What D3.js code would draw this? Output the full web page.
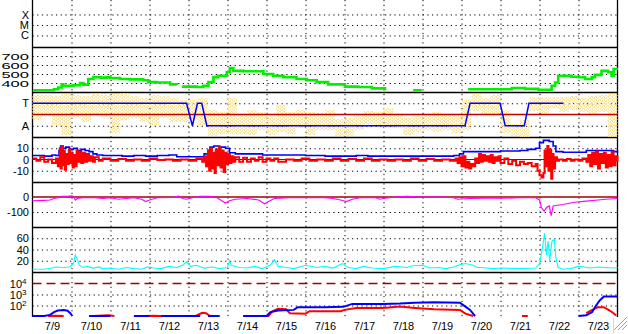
<!DOCTYPE html>
<html><head><meta charset="utf-8">
<script src="https://cdn.jsdelivr.net/npm/d3@7"></script>
<style>
html,body{margin:0;padding:0;background:#fff;overflow:hidden}
svg{display:block}
</style></head><body>
<svg id="c" width="628" height="334"></svg>
<script>
// ---------- data (time in days since 7/9 00:00) ----------
const dayLabels = ["7/9","7/10","7/11","7/12","7/13","7/14","7/15","7/16","7/17","7/18","7/19","7/20","7/21","7/22","7/23"];
const xrayTicks = [1e-6, 1e-5, 1e-4];
const xrayLabels = ["C", "M", "X"];
const speedTicks = [400, 500, 600, 700];
const sectorTicks = [1, -1];
const sectorLabels = ["T", "A"];
const magTicks = [10, 0, -10];
const dstTicks = [0, -100];
const densTicks = [20, 40, 60];
const protTicks = [1e2, 1e3, 1e4];

const speed = [[0.02,318],[0.45,320],[0.55,330],[0.66,350],[0.75,385],[0.79,370],[1.05,375],[1.22,400],[1.30,380],[1.43,445],[1.56,465],[1.75,460],[1.90,465],[1.99,455],[2.24,445],[2.50,440],[2.84,430],[2.97,410],[3.18,405],[3.53,385],[3.70,380],[3.76,null],
 [3.83,360],[4.21,355],[4.38,370],[4.51,410],[4.64,465],[4.76,480],[4.98,520],[5.06,565],[5.15,535],[5.41,530],[5.75,530],[5.92,500],[6.17,480],[6.43,465],[6.77,445],[7.03,430],[7.29,410],[7.58,385],[8.01,360],[8.27,360],[8.35,355],[8.70,340],[9.04,320],[9.05,null],
 [9.76,320],[9.98,320],[9.99,null],
 [11.17,330],[11.94,330],[12.29,345],[12.63,335],[12.97,325],[13.14,325],[13.31,370],[13.40,405],[13.48,480],[13.82,470],[13.99,465],[14.17,445],[14.34,465],[14.42,490],[14.59,535],[14.76,520],[14.85,480],[14.90,555],[14.98,545]];

const sector = [[0,1],[3.95,1],[4.10,-1],[4.23,1],[4.34,1],[4.47,-1],[11.09,-1],[11.22,1],[11.99,1],[12.12,-1],[12.61,-1],[12.73,1],[13.61,1]];

const phiStart = [0,0.25,0.5,0.75,1,1.25,1.5,1.75,2,2.25,2.5,2.75,3,3.25,3.5,3.75,4,4.25,4.5,4.75,5,5.25,5.5,5.75,6,6.25,6.5,6.75,7,7.25,7.5,7.75,8,8.25,8.5,8.75,9,9.25,9.5,9.75,10,10.25,10.5,10.75,11,11.25,11.5,11.75,12,12.25,12.5,12.75,13,13.25,13.5,13.75,14,14.25,14.5,14.75];
const phiHi = [336,336,328,344,336,328,352,336,344,352,328,312,336,328,312,296,296,312,216,200,312,176,216,200,168,256,200,216,200,192,216,144,152,176,208,200,232,176,152,168,176,200,176,176,296,344,312,336,216,104,136,320,320,320,320,328,312,328,336,344];
const phiLo = [136,168,96,16,152,120,176,152,32,136,152,120,96,152,120,120,136,96,8,24,24,24,16,56,16,40,24,72,16,56,56,8,8,56,104,96,72,72,16,40,56,40,56,32,56,208,176,176,32,8,0,208,176,232,200,216,200,176,200,0];

const bz = [[0,1],[0.1,-1],[0.2,2],[0.3,-2],[0.4,0],[0.5,-3],[0.6,1],[0.65,-6],[0.7,10],[0.72,-8],[0.75,12],[0.78,-5],[0.8,8],[0.83,-9],[0.86,5],[0.9,-4],[0.93,9],[0.96,-3],[1.0,6],[1.03,-7],[1.06,4],[1.1,-6],[1.13,8],[1.16,-2],[1.2,7],[1.25,-3],[1.3,6],[1.35,-2],[1.4,5],[1.45,-1],[1.5,3],[1.55,-2],[1.6,2],[1.7,-1],[1.8,1],[2.0,-1],[2.2,0.5],[2.4,-1],[2.6,0],[2.8,-1],[3.0,1],[3.2,-0.5],[3.4,0],[3.6,-1],[3.8,0],[4.0,-1],[4.2,1],[4.35,-2],[4.4,3],[4.45,-6],[4.5,8],[4.53,-10],[4.56,10],[4.6,-8],[4.63,6],[4.67,-12],[4.7,9],[4.74,-5],[4.78,11],[4.82,-7],[4.86,8],[4.9,-11],[4.94,6],[4.98,-4],[5.02,5],[5.06,-3],[5.1,3],[5.15,-2],[5.2,2],[5.3,-2],[5.4,1.5],[5.5,-2],[5.6,1],[5.7,-1],[5.8,2],[5.9,-2],[6.0,1],[6.1,-1],[6.2,1],[6.3,-2],[6.5,0],[6.7,-1],[6.9,1],[7.1,-1],[7.3,0],[7.5,-1],[7.7,1],[7.9,-1],[8.1,0.5],[8.3,-1],[8.5,1],[8.7,-1],[8.9,0],[9.1,-1],[9.3,0],[9.5,-1],[9.7,1],[9.9,-1],[10.1,0.5],[10.3,-1],[10.5,0],[10.7,-1],[10.85,1],[10.9,-3],[10.95,2],[11.0,-6],[11.05,3],[11.1,-7],[11.15,-2],[11.2,-8],[11.25,-4],[11.3,-6],[11.35,1],[11.4,-3],[11.45,5],[11.5,-2],[11.55,4],[11.6,-1],[11.65,3],[11.7,-2],[11.75,4],[11.8,-3],[11.85,2],[11.9,-1],[11.95,3],[12.0,-3],[12.1,1],[12.2,-4],[12.3,-1],[12.4,-5],[12.5,-2],[12.6,-4],[12.7,-3],[12.8,-6],[12.9,-4],[12.95,-10],[13.0,-14],[13.05,-16],[13.1,-12],[13.13,8],[13.16,-6],[13.2,12],[13.23,-10],[13.26,9],[13.3,-17],[13.33,5],[13.36,-8],[13.4,2],[13.45,-1],[13.5,0],[13.6,-1],[13.7,0.5],[13.8,-1],[13.9,0],[14.0,-1],[14.1,1],[14.2,-2],[14.25,4],[14.3,-6],[14.35,6],[14.4,-4],[14.45,7],[14.5,-8],[14.55,5],[14.6,-3],[14.65,6],[14.7,-7],[14.75,4],[14.8,-6],[14.85,7],[14.9,-5],[14.95,3],[15.0,-2]];

const bt = [[0,3.5],[0.3,3],[0.5,4],[0.6,3.5],[0.68,8],[0.72,12],[0.78,10],[0.85,11],[0.95,9],[1.05,10],[1.15,8],[1.25,9],[1.35,8],[1.45,7],[1.55,5],[1.65,4],[1.8,3.5],[2.0,3.5],[2.3,3],[2.6,3.5],[2.9,3],[3.2,3.5],[3.5,4],[3.7,2.5],[4.3,2.5],[4.4,5],[4.5,8],[4.55,11],[4.65,12],[4.8,11],[4.95,10],[5.05,6],[5.2,5],[5.6,5],[5.9,4],[6.3,4],[7.0,3.5],[7.5,3],[8.0,3],[8.3,3.5],[8.6,3],[9.0,3],[10.0,3],[10.8,3.5],[10.95,5],[11.05,7],[11.5,7],[12.0,7.5],[12.5,8],[12.7,9],[12.9,10],[13.0,15],[13.1,17],[13.25,16],[13.35,12],[13.42,7],[13.6,6.5],[14.0,6.5],[14.2,8],[14.5,8],[14.9,7],[15.0,6]];

const dst = [[0,-25],[0.3,-22],[0.45,-20],[0.55,-10],[0.65,-5],[0.75,5],[0.9,5],[1.0,8],[1.05,5],[1.1,-20],[1.15,-10],[1.3,-5],[1.6,-5],[1.8,-10],[2.0,-5],[2.2,-15],[2.4,-10],[2.6,-5],[2.8,-15],[2.9,-30],[3.0,-20],[3.2,-5],[3.6,-3],[3.75,5],[3.85,-10],[3.95,-15],[4.1,-5],[4.3,5],[4.5,5],[4.7,0],[4.85,-25],[4.95,-40],[5.05,-25],[5.2,-15],[5.5,-10],[5.8,-20],[5.95,-45],[6.05,-30],[6.2,-10],[6.6,-5],[7.0,-5],[7.5,-5],[7.7,-10],[7.9,-20],[8.05,-30],[8.2,-15],[8.4,-5],[8.8,-5],[8.9,-15],[9.0,-10],[9.3,0],[9.6,5],[10.0,0],[10.5,0],[10.8,-5],[10.9,-15],[11.2,-10],[11.6,-8],[12.0,-8],[12.5,-5],[12.9,-5],[13.0,-20],[13.05,-70],[13.12,-95],[13.18,-70],[13.25,-60],[13.3,-125],[13.35,-60],[13.45,-55],[13.6,-50],[13.9,-35],[14.2,-28],[14.5,-20],[14.7,-15],[15.0,-10]];

const dens = [[0,5],[0.3,5],[0.5,7],[0.6,9],[0.8,8],[0.95,9],[1.05,15],[1.1,30],[1.15,22],[1.2,12],[1.3,8],[1.4,10],[1.55,7],[1.7,9],[1.8,6],[2.0,7],[2.2,5],[2.4,8],[2.6,6],[2.8,5],[2.95,9],[3.1,7],[3.3,6],[3.5,10],[3.7,8],[3.85,12],[3.95,18],[4.05,10],[4.2,12],[4.4,7],[4.6,9],[4.8,6],[5.0,8],[5.05,20],[5.1,12],[5.3,8],[5.5,7],[5.7,10],[5.9,6],[6.1,12],[6.2,22],[6.3,10],[6.5,8],[6.7,6],[7.0,12],[7.3,8],[7.5,10],[7.7,7],[7.95,15],[8.1,8],[8.3,6],[8.5,10],[8.7,7],[9.0,6],[9.3,10],[9.6,8],[9.75,11],[10.0,12],[10.2,7],[10.4,8],[10.6,6],[10.8,9],[10.95,13],[11.1,15],[11.3,12],[11.4,8],[11.5,8],[11.8,6],[12.0,7],[12.5,6],[12.9,7],[13.0,15],[13.08,45],[13.13,69],[13.18,30],[13.22,55],[13.26,20],[13.32,55],[13.38,58],[13.42,25],[13.48,8],[13.6,5],[13.8,6],[14.0,10],[14.15,9],[14.3,7],[14.5,9],[14.7,8],[14.9,7],[15.0,8]];

const protBlue = [[0,11],[0.3,11],[0.45,14],[0.55,25],[0.65,35],[0.8,38],[0.9,33],[0.97,20],[1.02,11],[1.03,null],[1.45,11],[2.0,11],[2.01,null],[2.6,11],[3.0,11],[3.01,null],[3.3,11],[4.3,11],[4.31,null],[4.5,11],[4.8,11],[4.81,null],[5.4,11],[6.0,11],[6.1,25],[6.3,35],[6.7,40],[6.8,70],[7.5,70],[7.97,75],[8.2,140],[9.0,140],[9.42,150],[9.8,180],[10.3,200],[10.96,180],[11.1,80],[11.22,40],[11.35,11],[11.36,null],[14.0,11],[14.2,13],[14.35,25],[14.45,100],[14.55,300],[14.65,650],[15.0,650]];
const protRed = [[0.4,11],[0.6,12],[0.8,11],[0.81,null],[1.55,11],[1.95,13],[2.1,11],[2.11,null],[2.95,11],[3.1,12],[3.25,11],[4.2,12],[4.35,22],[4.45,20],[4.55,11],[4.56,null],[5.5,11],[6.05,11],[6.15,30],[6.3,50],[6.5,45],[6.6,20],[7.0,18],[7.1,30],[7.9,30],[8.0,40],[8.3,60],[9.0,60],[9.42,80],[9.8,60],[10.3,45],[10.96,40],[11.1,18],[11.3,11],[11.31,null],[12.55,11],[12.7,11],[12.71,null],[14.2,20],[14.35,40],[14.5,70],[14.65,70],[14.8,35],[14.9,20],[14.97,12]];

// ---------- scales ----------
const svg = d3.select("#c");
const FONT = '"Liberation Sans", Arial, Helvetica, sans-serif';
const L = 32.5, R = 617.5, W = R - L;
const x = d3.scaleLinear().domain([0, 15]).range([L, R]);
const yX = d3.scaleLog().domain([Math.pow(10,-7.1), Math.pow(10,-2.62)]).range([47, 0]);
const ySp = d3.scaleLinear().domain([300, 800]).range([92, 47]);
const ySec = d3.scaleLinear().domain([-2, 2]).range([137, 92]);
const yPhi = d3.scaleLinear().domain([0, 360]).range([137, 92]);
const yB = d3.scaleLinear().domain([-20, 20]).range([182, 137]);
const yD = d3.scaleLinear().domain([-200, 100]).range([227, 182]);
const yN = d3.scaleLinear().domain([0, 80]).range([272, 227]);
const yP = d3.scaleLog().domain([10, 1e5]).range([316.5, 272.5]);

const defs = svg.append("defs");
const pat = defs.append("pattern").attr("id","spk").attr("width",4).attr("height",3).attr("patternUnits","userSpaceOnUse");
[[0,0,1,2],[2,1,1,2],[1,2,1,1],[3,0,1,1]].forEach(r=>pat.append("rect").attr("x",r[0]).attr("y",r[1]).attr("width",r[2]).attr("height",r[3]).attr("fill","#f9e49a"));

// ---------- gridlines + labels via axes ----------
function leftAxis(scale, ticks, labels, opts={}) {
  const ax = d3.axisLeft(scale).tickValues(ticks).tickSizeInner(-W).tickSizeOuter(0).tickPadding(3.5)
    .tickFormat((d,i) => labels ? labels[i] : d);
  const g = svg.append("g").attr("transform", `translate(${L},0)`).call(ax);
  g.select(".domain").remove();
  g.selectAll(".tick line").attr("stroke", "#000").attr("stroke-width", 1)
    .attr("stroke-dasharray", "1.2,3.5");
  g.selectAll(".tick text").attr("font-family", FONT).attr("font-size", 11).attr("fill", "#000");
  if (opts.noGridValues) g.selectAll(".tick line").filter(d => opts.noGridValues.includes(d)).attr("stroke","none");
  return g;
}
leftAxis(yX, xrayTicks, xrayLabels);
const gsp = leftAxis(ySp, speedTicks);
gsp.selectAll(".tick text").attr("transform", "scale(1.5,0.8)").attr("x", -2.4).attr("dy", "0.45em");
leftAxis(ySec, sectorTicks, sectorLabels);
leftAxis(yB, magTicks, null, {noGridValues:[0]});
leftAxis(yD, dstTicks, null, {noGridValues:[0]});
leftAxis(yN, densTicks);
const gp = leftAxis(yP, protTicks, null, {noGridValues:[1e4]});
gp.selectAll(".tick text").each(function(d){
  const e = Math.round(Math.log10(d));
  const t = d3.select(this); t.text("10").attr("x", -6);
  t.append("tspan").attr("dy", -4).attr("font-size", 8).text(e);
});

// vertical day gridlines
const vg = svg.append("g").call(d3.axisBottom(x).tickValues(d3.range(1, 15)).tickSize(317).tickFormat(""));
vg.select(".domain").remove();
vg.selectAll(".tick line").attr("stroke", "#000").attr("stroke-dasharray", "1.2,3.5");

// day labels
const dg = svg.append("g").attr("transform", "translate(0,317)")
  .call(d3.axisBottom(x).tickValues(d3.range(15).map(i => i + 0.5)).tickSize(0).tickPadding(5).tickFormat((d,i) => dayLabels[i]));
dg.select(".domain").remove();
dg.selectAll(".tick text").attr("font-family", FONT).attr("font-size", 11).attr("fill", "#000");

// ---------- panel frames ----------
[47, 92, 137, 182, 227, 272].forEach(yy => svg.append("line").attr("x1", L).attr("x2", R).attr("y1", yy + 0.5).attr("y2", yy + 0.5).attr("stroke", "#000").attr("stroke-width", 1.3));
svg.append("line").attr("x1", L).attr("x2", L).attr("y1", 0).attr("y2", 317).attr("stroke", "#000").attr("stroke-width", 1.3);
svg.append("line").attr("x1", R).attr("x2", R).attr("y1", 0).attr("y2", 317).attr("stroke", "#000").attr("stroke-width", 1.3);

// ---------- data marks ----------
const mkLine = (ys, curve) => d3.line().defined(d => d[1] != null).x(d => x(d[0])).y(d => ys(d[1])).curve(curve || d3.curveLinear);

// speed
svg.append("path").datum(speed).attr("d", mkLine(ySp, d3.curveStepAfter)).attr("fill", "none").attr("stroke", "#00f000").attr("stroke-width", 2.6);

// sector panel: phi speckle bands
svg.append("g").selectAll("rect").data(phiStart).join("rect")
  .attr("x", d => x(d)).attr("width", d => x(d + 0.25) - x(d))
  .attr("y", (d,i) => yPhi(phiHi[i])).attr("height", (d,i) => yPhi(phiLo[i]) - yPhi(phiHi[i]))
  .attr("fill", "url(#spk)");
svg.append("line").attr("x1", L).attr("x2", R).attr("y1", ySec(0)).attr("y2", ySec(0)).attr("stroke", "#c00000").attr("stroke-width", 1.5);
svg.append("path").datum(sector).attr("d", mkLine(ySec)).attr("fill", "none").attr("stroke", "#0000ff").attr("stroke-width", 1.5);

// Bt / Bz
svg.append("line").attr("x1", L).attr("x2", R).attr("y1", yB(0)).attr("y2", yB(0)).attr("stroke", "#a00000").attr("stroke-width", 1);
svg.append("path").datum(bt).attr("d", mkLine(yB, d3.curveStepAfter)).attr("fill", "none").attr("stroke", "#0000ff").attr("stroke-width", 1.6);
svg.append("path").datum(bz).attr("d", mkLine(yB, d3.curveStepAfter)).attr("fill", "none").attr("stroke", "#ff0000").attr("stroke-width", 2);

// Dst-like
svg.append("line").attr("x1", L).attr("x2", R).attr("y1", yD(0)).attr("y2", yD(0)).attr("stroke", "#a00000").attr("stroke-width", 1.3);
svg.append("path").datum(dst).attr("d", mkLine(yD)).attr("fill", "none").attr("stroke", "#ff00ff").attr("stroke-width", 1.2);

// density
svg.append("path").datum(dens).attr("d", mkLine(yN)).attr("fill", "none").attr("stroke", "#00ffff").attr("stroke-width", 1.1);

// protons
svg.append("line").attr("x1", L).attr("x2", R).attr("y1", yP(1e4)).attr("y2", yP(1e4)).attr("stroke", "#a00000").attr("stroke-width", 1.3).attr("stroke-dasharray", "9,5");
svg.append("path").datum(protRed).attr("d", mkLine(yP)).attr("fill", "none").attr("stroke", "#ff0000").attr("stroke-width", 2);
svg.append("path").datum(protBlue).attr("d", mkLine(yP)).attr("fill", "none").attr("stroke", "#0000ff").attr("stroke-width", 2);

// window resize grip (decoration)
const grip = svg.append("g").attr("stroke", "#a0a0a0").attr("stroke-width", 1);
grip.append("line").attr("x1", 613.5).attr("x2", 613.5).attr("y1", 318).attr("y2", 334).attr("stroke", "#d8d8d8");
[[627,321,618,330],[627,325,622,330],[627,317,614,330]].forEach(s => grip.append("line").attr("x1", s[0]).attr("y1", s[1]).attr("x2", s[2]).attr("y2", s[3]));
</script>
</body></html>
